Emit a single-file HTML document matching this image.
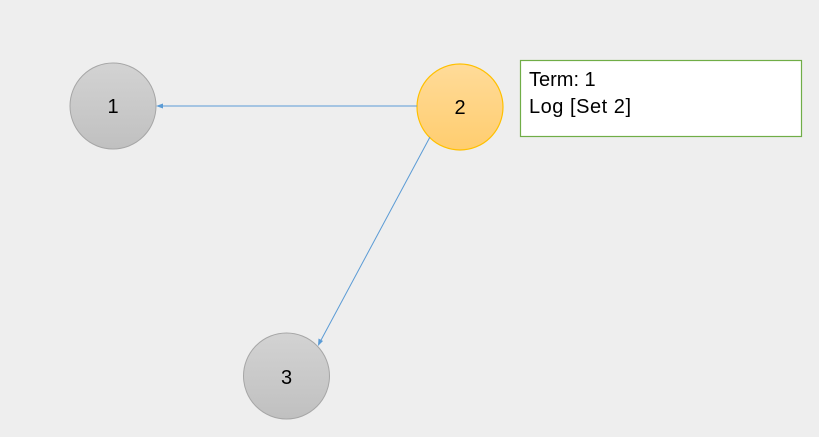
<!DOCTYPE html>
<html><head><meta charset="utf-8"><style>
html,body{margin:0;padding:0;width:819px;height:437px;overflow:hidden;background:#eeeeee;font-family:"Liberation Sans",Calibri,sans-serif}
</style></head><body>
<svg width="819" height="437" viewBox="0 0 819 437" xmlns="http://www.w3.org/2000/svg">
<defs>
<linearGradient id="g" x1="0" y1="0" x2="0" y2="1"><stop offset="0" stop-color="#d3d3d3"/><stop offset="1" stop-color="#c0c0c0"/></linearGradient>
<linearGradient id="o" x1="0" y1="0" x2="0" y2="1"><stop offset="0" stop-color="#ffdb99"/><stop offset="1" stop-color="#ffcd6f"/></linearGradient>
</defs>
<rect width="819" height="437" fill="#eeeeee"/>
<circle cx="113" cy="106" r="43" fill="url(#g)" stroke="#a6a6a6" stroke-width="1"/>
<circle cx="460" cy="107" r="43" fill="url(#o)" stroke="#ffc000" stroke-width="1.2"/>
<circle cx="286.5" cy="376" r="43" fill="url(#g)" stroke="#a6a6a6" stroke-width="1"/>
<line x1="417" y1="106" x2="160" y2="106" stroke="#5b9bd5" stroke-width="1"/>
<polygon points="156,106 163,103.5 163,108.5" fill="#5b9bd5"/>
<line x1="430" y1="137" x2="320" y2="342" stroke="#5b9bd5" stroke-width="1"/>
<polygon points="318,346 318.5,338.5 323,341" fill="#5b9bd5"/>
<text x="113" y="113" font-size="20" text-anchor="middle" fill="#000">1</text>
<text x="460" y="114" font-size="20" text-anchor="middle" fill="#000">2</text>
<text x="286.5" y="384" font-size="20" text-anchor="middle" fill="#000">3</text>
<rect x="520.5" y="60.5" width="281" height="76" fill="#fff" stroke="#70ad47" stroke-width="1.2"/>
<text x="529" y="86" font-size="20" fill="#000">Term: 1</text>
<text x="529" y="113" font-size="20" fill="#000" textLength="102">Log [Set 2]</text>
</svg>
</body></html>
